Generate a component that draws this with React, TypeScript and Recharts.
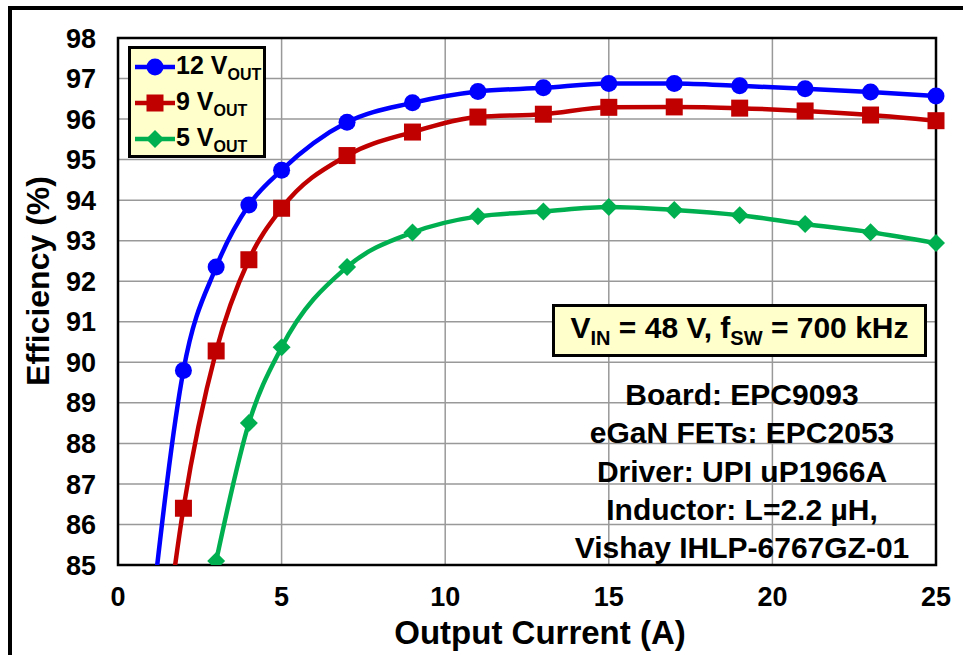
import { CartesianGrid, Legend, Line, LineChart, ReferenceArea, XAxis, YAxis } from 'recharts';

// output current (A) and efficiency (%) per output voltage
const current12 = [1, 2, 3, 4, 5, 7, 9, 11, 13, 15, 17, 19, 21, 23, 25];
const eff12 = [83.6, 89.8, 92.35, 93.88, 94.74, 95.92, 96.4, 96.68, 96.77, 96.88, 96.88, 96.82, 96.75, 96.67, 96.57];

const current9 = [1, 2, 3, 4, 5, 7, 9, 11, 13, 15, 17, 19, 21, 23, 25];
const eff9 = [80.2, 86.4, 90.28, 92.53, 93.8, 95.1, 95.68, 96.05, 96.12, 96.29, 96.3, 96.27, 96.2, 96.1, 95.96];

const current5 = [3, 4, 5, 7, 9, 11, 13, 15, 17, 19, 21, 23, 25];
const eff5 = [85.1, 88.5, 90.37, 92.35, 93.2, 93.6, 93.72, 93.83, 93.76, 93.63, 93.41, 93.21, 92.94];

const xTicks = [0, 5, 10, 15, 20, 25];
const yTicks = [85, 86, 87, 88, 89, 90, 91, 92, 93, 94, 95, 96, 97, 98];

const infoLines = [
  'Board: EPC9093',
  'eGaN FETs: EPC2053',
  'Driver: UPI uP1966A',
  'Inductor: L=2.2 µH,',
  'Vishay IHLP-6767GZ-01',
];

const Y_MIN = 85;
const FONT = '"Liberation Sans", Arial, sans-serif';

type Shape = 'circle' | 'square' | 'diamond';

const series = [
  { key: 'v12', label: '12', color: '#0000FF', shape: 'circle' as Shape, x: current12, y: eff12 },
  { key: 'v9', label: '9', color: '#C00000', shape: 'square' as Shape, x: current9, y: eff9 },
  { key: 'v5', label: '5', color: '#00B050', shape: 'diamond' as Shape, x: current5, y: eff5 },
];

function Marker({ shape, cx, cy, color }: { shape: Shape; cx: number; cy: number; color: string }) {
  if (shape === 'circle') return <circle cx={cx} cy={cy} r={8.5} fill={color} />;
  if (shape === 'square') return <rect x={cx - 8.5} y={cy - 8.5} width={17} height={17} fill={color} />;
  return (
    <polygon
      points={`${cx},${cy - 9} ${cx + 9},${cy} ${cx},${cy + 9} ${cx - 9},${cy}`}
      fill={color}
    />
  );
}

// markers below the axis minimum are not drawn, only the line reaching the edge
const makeDot = (shape: Shape, color: string) => (props: any) => {
  const { cx, cy, payload, index } = props;
  if (payload.eff < Y_MIN) return <g key={index} />;
  return (
    <g key={index}>
      <Marker shape={shape} cx={cx} cy={cy} color={color} />
    </g>
  );
};

function LegendBox() {
  return (
    <div
      style={{
        boxSizing: 'border-box',
        width: 138,
        height: 112,
        border: '3px solid #000',
        background: '#FFFFCC',
        paddingTop: 0,
        fontFamily: FONT,
        fontWeight: 'bold',
      }}
    >
      {series.map((s) => (
        <div key={s.key} style={{ display: 'flex', alignItems: 'center', height: 36, paddingLeft: 4 }}>
          <svg width={40} height={22}>
            <line x1={0} y1={11} x2={40} y2={11} stroke={s.color} strokeWidth={4.5} />
            <Marker shape={s.shape} cx={20} cy={11} color={s.color} />
          </svg>
          <span style={{ fontSize: 25, color: '#000', marginLeft: 1, whiteSpace: 'nowrap' }}>
            {s.label} V<sub style={{ fontSize: 16 }}>OUT</sub>
          </span>
        </div>
      ))}
    </div>
  );
}

export default function App() {
  return (
    <div
      style={{
        position: 'absolute',
        left: 0,
        top: 0,
        width: 963,
        height: 655,
        background: '#fff',
        fontFamily: FONT,
        overflow: 'hidden',
      }}
    >
      {/* outer frame */}
      <div
        style={{
          position: 'absolute',
          left: 8,
          top: 6,
          width: 963,
          height: 647,
          borderLeft: '4px solid #000',
          borderTop: '4px solid #000',
          borderBottom: '1px solid #ccc',
        }}
      />
      <div style={{ position: 'absolute', left: 0, top: 0 }}>
        <LineChart width={963} height={655} margin={{ top: 38, right: 27, bottom: 0, left: 12 }}>
          <CartesianGrid stroke="#999" strokeWidth={1.5} />
          <XAxis
            type="number"
            dataKey="current"
            domain={[0, 25]}
            ticks={xTicks}
            interval={0}
            height={90}
            axisLine={false}
            tickLine={false}
            tickSize={0}
            tickMargin={22}
            tick={{ fontSize: 27, fontWeight: 'bold', fill: '#000', fontFamily: FONT }}
            allowDuplicatedCategory={false}
          />
          <YAxis
            type="number"
            dataKey="eff"
            domain={[85, 98]}
            ticks={yTicks}
            interval={0}
            allowDataOverflow
            width={106}
            axisLine={false}
            tickLine={false}
            tickSize={0}
            tickMargin={22}
            tick={{ fontSize: 27, fontWeight: 'bold', fill: '#000', fontFamily: FONT }}
          />
          <ReferenceArea x1={0} x2={25} y1={85} y2={98} fill="none" stroke="#000" strokeWidth={2.5} />
          {series.map((s) => (
            <Line
              key={s.key}
              name={`${s.label} VOUT`}
              data={s.x.map((c, i) => ({ current: c, eff: s.y[i] }))}
              dataKey="eff"
              type="monotone"
              stroke={s.color}
              strokeWidth={4.5}
              dot={makeDot(s.shape, s.color)}
              activeDot={false}
              isAnimationActive={false}
            />
          ))}
          <Legend
            layout="vertical"
            align="center"
            verticalAlign="middle"
            content={<LegendBox />}
            wrapperStyle={{ top: 46, left: 128, width: 138, height: 112 }}
          />
        </LineChart>
      </div>

      {/* axis titles */}
      <div
        style={{
          position: 'absolute',
          left: 38,
          top: 281,
          transform: 'translate(-50%, -50%) rotate(-90deg)',
          fontSize: 32,
          fontWeight: 'bold',
          whiteSpace: 'nowrap',
        }}
      >
        Efficiency (%)
      </div>
      <div
        style={{
          position: 'absolute',
          left: 540,
          top: 633,
          transform: 'translate(-50%, -50%)',
          fontSize: 33,
          fontWeight: 'bold',
          whiteSpace: 'nowrap',
        }}
      >
        Output Current (A)
      </div>

      {/* operating point box */}
      <div
        style={{
          position: 'absolute',
          left: 552,
          top: 304,
          width: 375,
          height: 53,
          boxSizing: 'border-box',
          border: '3px solid #000',
          background: '#FFFFCC',
          display: 'flex',
          alignItems: 'center',
          justifyContent: 'center',
          fontSize: 30,
          fontWeight: 'bold',
          whiteSpace: 'nowrap',
        }}
      >
        <span>
          V<sub style={{ fontSize: 20 }}>IN</sub> = 48 V, f<sub style={{ fontSize: 20 }}>SW</sub> = 700 kHz
        </span>
      </div>

      {/* board details */}
      <div
        style={{
          position: 'absolute',
          left: 542,
          top: 376,
          width: 400,
          textAlign: 'center',
          fontSize: 30,
          lineHeight: '38.25px',
          fontWeight: 'bold',
          whiteSpace: 'nowrap',
        }}
      >
        {infoLines.map((t) => (
          <div key={t}>{t}</div>
        ))}
      </div>
    </div>
  );
}
